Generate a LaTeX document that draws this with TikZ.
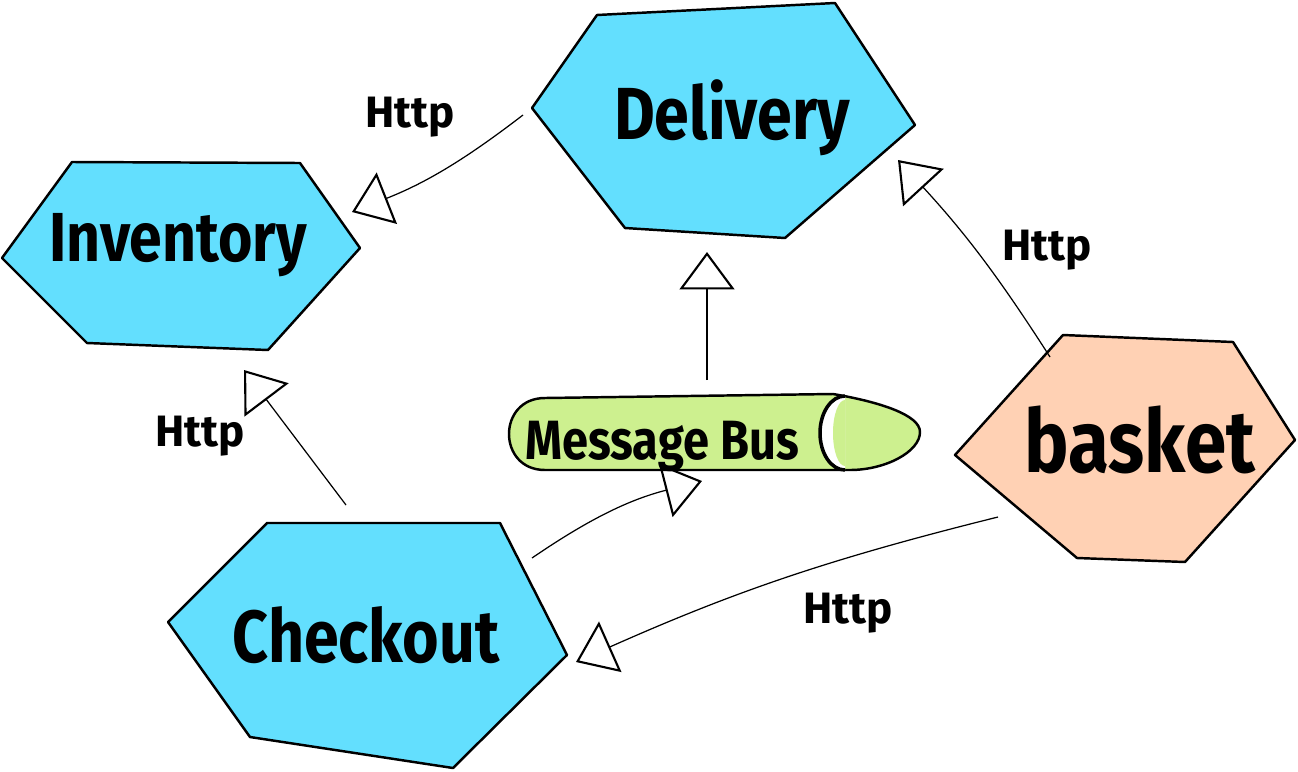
\documentclass[tikz,border=0pt]{standalone}
\usepackage{fontspec}
\usepackage{graphicx}
\setmainfont{Fira Sans}
\usetikzlibrary{arrows.meta}
\definecolor{hexblue}{RGB}{99,223,254}
\definecolor{hexpeach}{RGB}{255,209,180}
\definecolor{busgreen}{RGB}{205,240,143}
\newcommand{\narrow}[1]{\scalebox{0.85}[1]{#1}}

\begin{document}
\begin{tikzpicture}[x=0.02cm,y=-0.02cm,
    hexa/.style={draw=black,line width=1.4pt,line join=round},
    svcname/.style={font=\bfseries\fontsize{42}{42}\selectfont},
    http/.style={font=\bfseries\fontsize{25}{25}\selectfont},
    link/.style={line width=0.7pt,-{Triangle[open,length=0.75cm,width=1.1cm,line width=1.2pt]}}]
    \useasboundingbox (0,0) rectangle (1298,771);

    % services
    \filldraw[hexa,fill=hexblue] (532,108) -- (597,15) -- (835,3) -- (915,125) -- (785,238) -- (625,228) -- cycle;
    \filldraw[hexa,fill=hexblue] (2,258) -- (72,162) -- (300,163) -- (360,248) -- (268,350) -- (87,343) -- cycle;
    \filldraw[hexa,fill=hexblue] (168,622) -- (267,523) -- (500,523) -- (567,655) -- (453,768) -- (250,737) -- cycle;
    \filldraw[hexa,fill=hexpeach] (955,455) -- (1063,335) -- (1233,342) -- (1295,440) -- (1185,562) -- (1077,558) -- cycle;

    % message bus
    \filldraw[hexa,fill=busgreen] (545,398) -- (833,394) .. controls (880,402) and (920,415) .. (920,432)
        .. controls (920,452) and (885,470) .. (850,470) -- (545,470) .. controls (497,470) and (497,398) .. (545,398) -- cycle;
    \fill[white] (845,396) arc[start angle=270,end angle=90,x radius=24,y radius=37] -- cycle;
    \fill[busgreen] (845,400) arc[start angle=270,end angle=90,x radius=12,y radius=33] -- cycle;
    \draw[line width=2pt] (845,396) arc[start angle=270,end angle=90,x radius=25,y radius=37];

    \node[svcname] (delivery) at (732,118) {\narrow{Delivery}};
    \node[svcname,font=\bfseries\fontsize{39.5}{39.5}\selectfont] (inventory) at (178,245) {\narrow{Inventory}};
    \node[svcname] (checkout) at (366,635) {\narrow{Checkout}};
    \node[svcname,font=\bfseries\fontsize{50}{50}\selectfont] (basket) at (1140,440) {\narrow{basket}};
    \node[svcname,font=\bfseries\fontsize{31.5}{31.5}\selectfont] (bus) at (662,446) {\narrow{Message Bus}};

    % connector ends
    \coordinate (del-w) at (523,115);
    \coordinate (inv-e) at (352,212);
    \coordinate (del-se) at (898,160);
    \coordinate (bas-nw) at (1050,357);
    \coordinate (del-s) at (707,252);
    \coordinate (bus-n) at (707,380);
    \coordinate (inv-s) at (244,370);
    \coordinate (chk-n) at (346,505);
    \coordinate (chk-ne) at (532,558);
    \coordinate (bus-s) at (702,481);
    \coordinate (bas-sw) at (998,517);
    \coordinate (chk-e) at (576,662);

    \draw[link] (del-w) to[bend left=8] (inv-e);
    \draw[link] (bas-nw) to[bend right=5] (del-se);
    \draw[link] (bus-n) -- (del-s);
    \draw[link] (chk-n) -- (inv-s);
    \draw[link] (chk-ne) to[bend left=10] (bus-s);
    \draw[link] (bas-sw) to[bend right=5] (chk-e);

    \node[http] (http1) at (410,117) {Http};
    \node[http] (http2) at (1047,250) {Http};
    \node[http] (http3) at (200,436) {Http};
    \node[http] (http4) at (848,613) {Http};
\end{tikzpicture}
\end{document}
